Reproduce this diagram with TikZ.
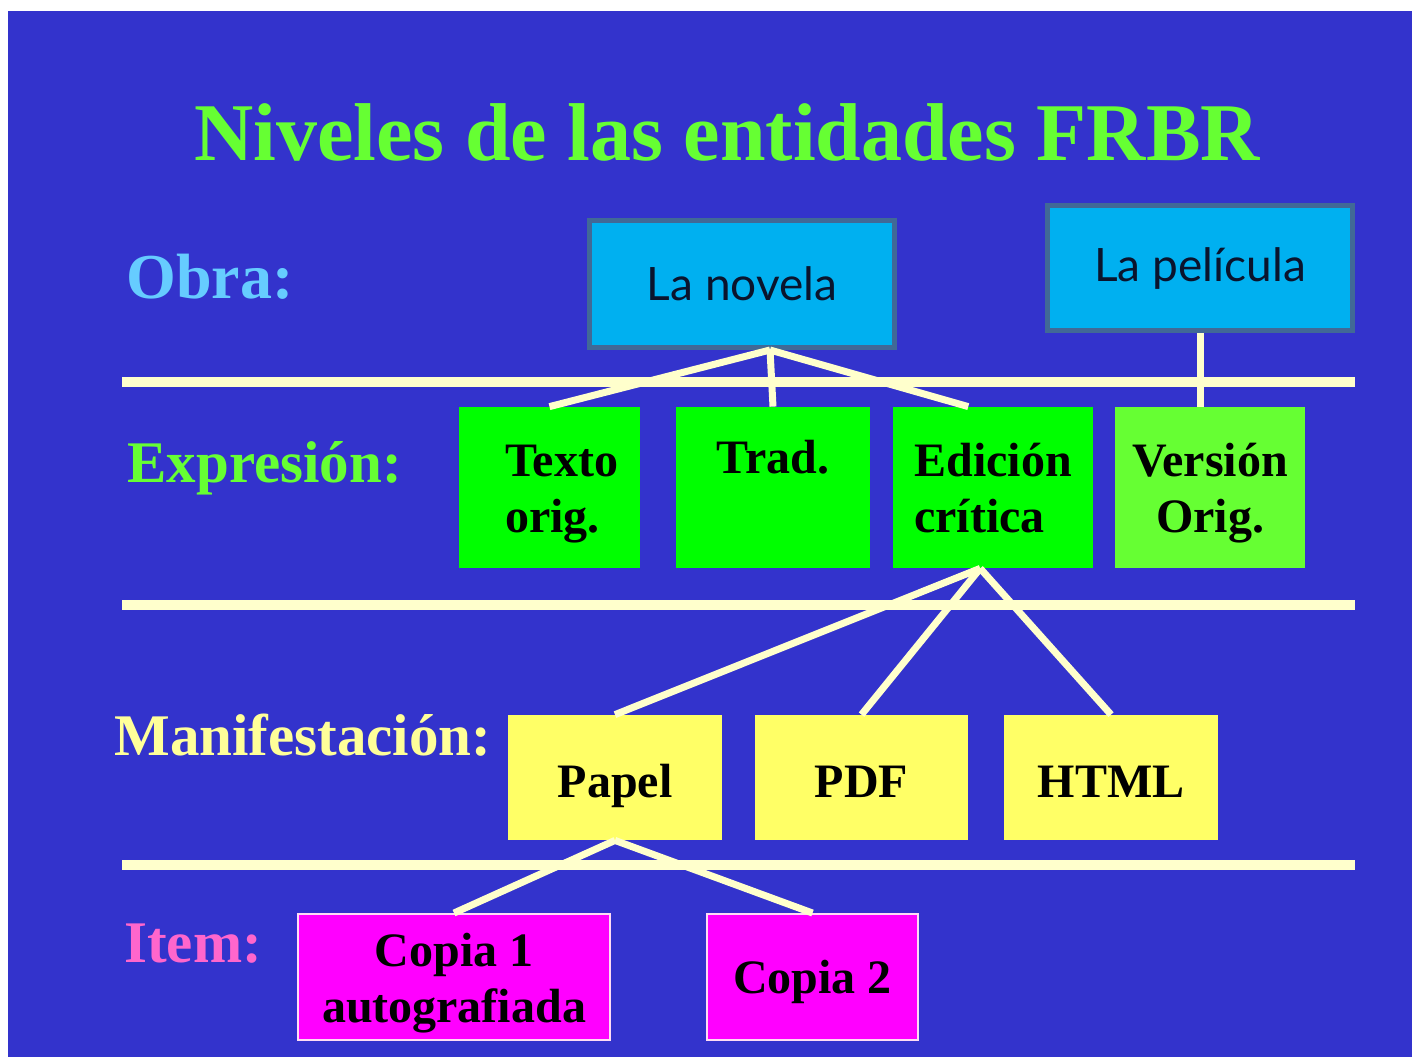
\documentclass[tikz,border=0pt]{standalone}
\usepackage{fontspec}
\setmainfont{Liberation Serif}
\newfontfamily\dinfont{Lato}
\usepackage{xcolor}

\definecolor{fondo}{RGB}{51,51,204}
\definecolor{verdetit}{RGB}{102,255,51}
\definecolor{celeste}{RGB}{102,204,255}
\definecolor{amarillo}{RGB}{255,255,153}
\definecolor{rosa}{RGB}{255,102,204}
\definecolor{crema}{RGB}{255,255,204}
\definecolor{cian}{RGB}{0,176,240}
\definecolor{cianborde}{RGB}{65,105,150}
\definecolor{marino}{RGB}{10,20,45}
\definecolor{verde}{RGB}{0,255,0}
\definecolor{verdeclaro}{RGB}{102,255,51}
\definecolor{yema}{RGB}{255,255,102}
\definecolor{magenta}{RGB}{255,0,255}

% dos lineas con altura fija
\newcommand{\doslineas}[3][23pt]{\rule{0pt}{#1}#2\\#3\rule[-6pt]{0pt}{0pt}}

\begin{document}
\begin{tikzpicture}[x=0.5pt,y=-0.5pt,
conn/.style={draw=crema,line width=3.5pt},
nivel/.style={anchor=base west,inner sep=0pt,font=\fontsize{29.5}{30}\selectfont\bfseries},
obrabox/.style={fill=cian,draw=cianborde,line width=2.5pt,minimum width=152.5pt,
  font=\dinfont\fontsize{23}{28}\selectfont,text=marino},
exprbox/.style={minimum height=80.5pt},
manifbox/.style={fill=yema,minimum height=62.5pt,text height=19.5pt,text depth=0pt},
itembox/.style={fill=magenta,draw={rgb,255:red,255;green,220;blue,245},line width=1pt,minimum height=63pt}]
\tikzstyle{every node}=[rectangle,inner sep=0pt,align=center,font=\fontsize{24}{28}\selectfont\bfseries]

% fondo
\fill[white] (0,0) rectangle (1412,1057);
\fill[fondo] (8,11) rectangle (1412,1057);
\useasboundingbox (0,0) rectangle (1412,1057);

\node (titulo) at (727,160) [anchor=base,text=verdetit,font=\fontsize{41}{41}\selectfont\bfseries] {Niveles de las entidades FRBR};

% niveles
\node (lobra) at (126,298) [nivel,text=celeste,font=\fontsize{32}{32}\selectfont\bfseries] {Obra:};
\node (lexpr) at (127,482) [nivel,text=verdetit] {Expresión:};
\node (lmanif) at (114,755) [nivel,text=amarillo] {Manifestación:};
\node (litem) at (124,962) [nivel,text=rosa] {Item:};

\foreach \y in {382,605,865}
  \draw[crema,line width=5pt] (122,\y) -- (1355,\y);

% obra
\node (novela) at (742,284) [obrabox,minimum height=63.5pt] {La novela};
\node (pelicula) at (1200,268) [obrabox,minimum height=62.5pt] {La película};

% expresion
\node (texto) at (549.5,487.5) [exprbox,fill=verde,minimum width=90.5pt,align=left] {\doslineas{\hspace{12pt}Texto}{\hspace{12pt}orig.}};
\node (trad) at (773,487.5) [exprbox,fill=verde,minimum width=97pt] {\doslineas[20pt]{Trad.}{\mbox{}}};
\node (edicion) at (993,487.5) [exprbox,fill=verde,minimum width=100pt,align=left] {\doslineas{Edición}{crítica}};
\node (version) at (1210,487.5) [exprbox,fill=verdeclaro,minimum width=95pt] {\doslineas{Versión}{Orig.}};

% manifestacion
\node (papel) at (615,777.5) [manifbox,minimum width=107pt] {Papel};
\node (pdf) at (861.5,777.5) [manifbox,minimum width=106.5pt] {PDF};
\node (html) at (1111,777.5) [manifbox,minimum width=107pt] {HTML};

% item
\node (copia1) at (454,977) [itembox,minimum width=156pt] {\doslineas{Copia 1}{autografiada}};
\node (copia2) at (812.5,977) [itembox,minimum width=105.5pt,text height=16pt,text depth=0pt] {Copia 2};

\draw[conn] (novela.293) -- (texto.north);
\draw[conn] (novela.293) -- (trad.north);
\draw[conn] (novela.293) -- (edicion.107);
\draw[conn] (pelicula.south) -- (pelicula.south |- version.north);
\draw[conn] (edicion.261) -- (papel.north);
\draw[conn] (edicion.261) -- (pdf.north);
\draw[conn] (edicion.261) -- (html.north);
\draw[conn] (papel.south) -- (copia1.north);
\draw[conn] (papel.south) -- (copia2.north);
\end{tikzpicture}
\end{document}
